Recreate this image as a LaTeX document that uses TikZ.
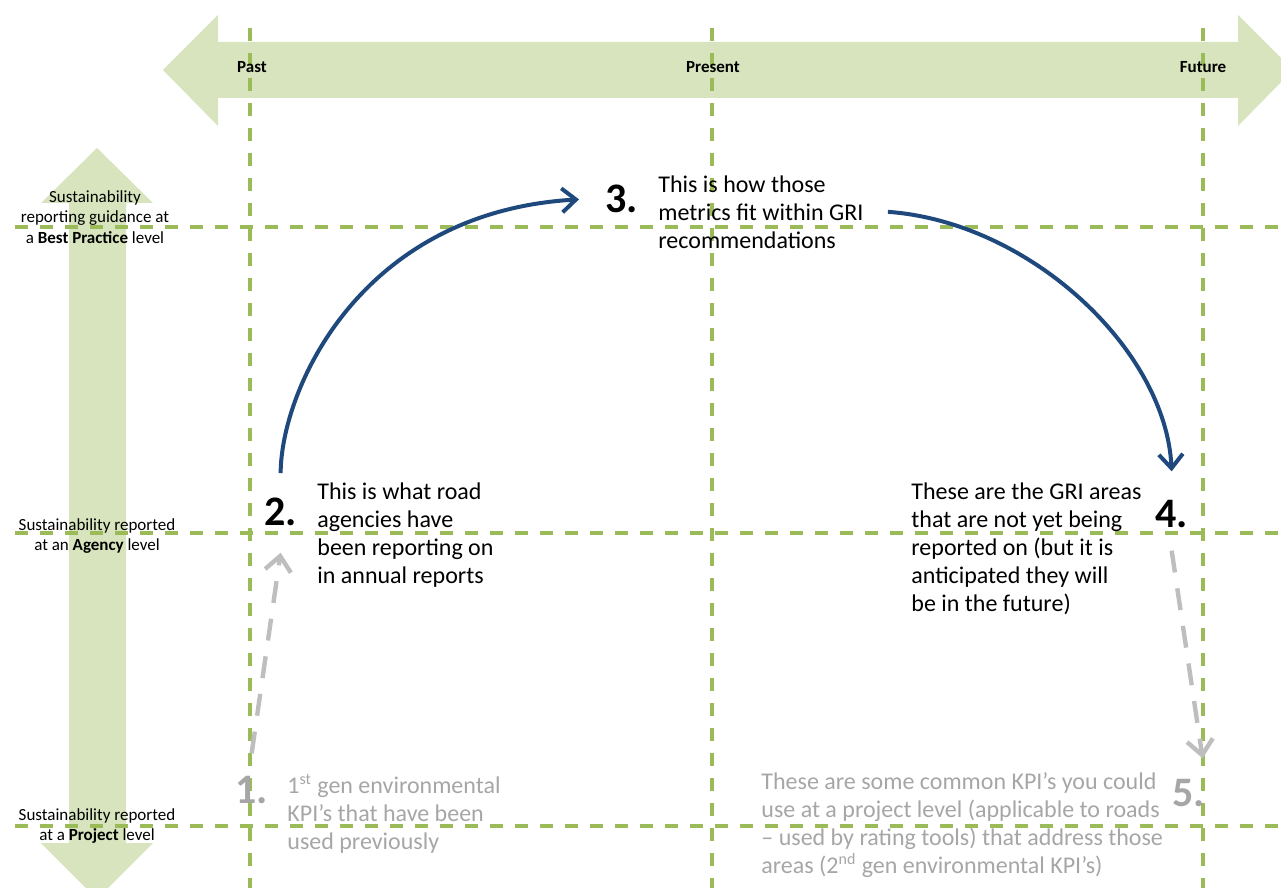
\documentclass[tikz,border=0pt]{standalone}
\usepackage{fontspec}
\setmainfont{Carlito}
\usetikzlibrary{arrows.meta}
\definecolor{bandgreen}{RGB}{215,228,189}
\definecolor{gridgreen}{RGB}{155,187,89}
\definecolor{flowblue}{RGB}{31,73,125}
\definecolor{fadegrey}{RGB}{166,166,166}
\definecolor{arrowgrey}{RGB}{190,190,190}

\begin{document}
\begin{tikzpicture}[
  x=0.5pt, y=-0.5pt,
  band/.style={fill=bandgreen, draw=none},
  gridline/.style={draw=gridgreen, line width=1.6pt, dash pattern=on 6.5pt off 6pt},
  timelabel/.style={font=\fontsize{8.5}{10}\selectfont\bfseries, anchor=base, inner sep=0pt},
  levellabel/.style={font=\fontsize{8.5}{10.3}\selectfont, align=center, anchor=north, inner sep=0pt},
  stepnum/.style={font=\fontsize{21}{24}\selectfont\bfseries, anchor=base west, inner sep=0pt},
  note/.style={font=\fontsize{12}{14}\selectfont, align=left, anchor=north west, inner sep=0pt},
  flow/.style={-{Straight Barb[length=7pt,width=12pt]}, draw=flowblue, line width=2pt},
  hint/.style={-{Straight Barb[length=7.5pt,width=13pt]}, draw=arrowgrey, line width=2.2pt, dash pattern=on 11pt off 8pt}
]
  \clip (0,0) rectangle (1281,888);

  \fill[band] (163,70) -- (218,15) -- (218,42) -- (1238,42) -- (1238,15) -- (1293,70)
    -- (1238,126) -- (1238,98) -- (218,98) -- (218,126) -- cycle;
  \fill[band] (97,148) -- (153,203) -- (126,203) -- (126,843) -- (153,843) -- (97,899)
    -- (41,843) -- (69,843) -- (69,203) -- (41,203) -- cycle;

  \draw[gridline] (250,28) -- (250,888);
  \draw[gridline] (712,28) -- (712,888);
  \draw[gridline] (1203,28) -- (1203,888);
  \draw[gridline] (15,227) -- (1281,227);
  \draw[gridline] (15,533) -- (1281,533);
  \draw[gridline] (15,826) -- (1281,826);

  \node[timelabel] (past) at (252,73) {Past};
  \node[timelabel] (present) at (713,73) {Present};
  \node[timelabel] (future) at (1203,73) {Future};

  \node[levellabel] (best) at (95,190) {Sustainability\\reporting guidance at\\a \textbf{Best Practice} level};
  \node[levellabel] (agency) at (97,518) {Sustainability reported\\at an \textbf{Agency} level};
  \node[levellabel] (project) at (97,808) {Sustainability reported\\at a \textbf{Project} level};

  \node[stepnum, text=fadegrey] (n1) at (235,803) {1.};
  \node[stepnum] (n2) at (264,525) {2.};
  \node[stepnum] (n3) at (605,213) {3.};
  \node[stepnum] (n4) at (1155,527) {4.};
  \node[stepnum, text=fadegrey] (n5) at (1172,806) {5.};

  \node[note, text=fadegrey] (t1) at (287,774) {1\textsuperscript{st} gen environmental\\KPI’s that have been\\used previously};
  \node[note] (t2) at (317,482) {This is what road\\agencies have\\been reporting on\\in annual reports};
  \node[note] (t3) at (658,175) {This is how those\\metrics fit within GRI\\recommendations};
  \node[note] (t4) at (911,482) {These are the GRI areas\\that are not yet being\\reported on (but it is\\anticipated they will\\be in the future)};
  \node[note, text=fadegrey] (t5) at (761,772) {These are some common KPI’s you could\\use at a project level (applicable to roads\\– used by rating tools) that address those\\areas (2\textsuperscript{nd} gen environmental KPI’s)};

  \draw[flow] ([yshift=12pt]n2.north) .. controls (281,390) and (360,212) .. ([xshift=-13pt]n3.west);
  \draw[flow] ([xshift=12pt]t3.east) .. controls (1030,222) and (1166,350) .. ([yshift=14pt]n4.north);
  \draw[hint] ([yshift=11pt]n1.north) -- ([yshift=-13.5pt]n2.south);
  \draw[hint] ([yshift=-11.5pt]n4.south) -- ([xshift=7pt,yshift=10pt]n5.north);
\end{tikzpicture}
\end{document}
